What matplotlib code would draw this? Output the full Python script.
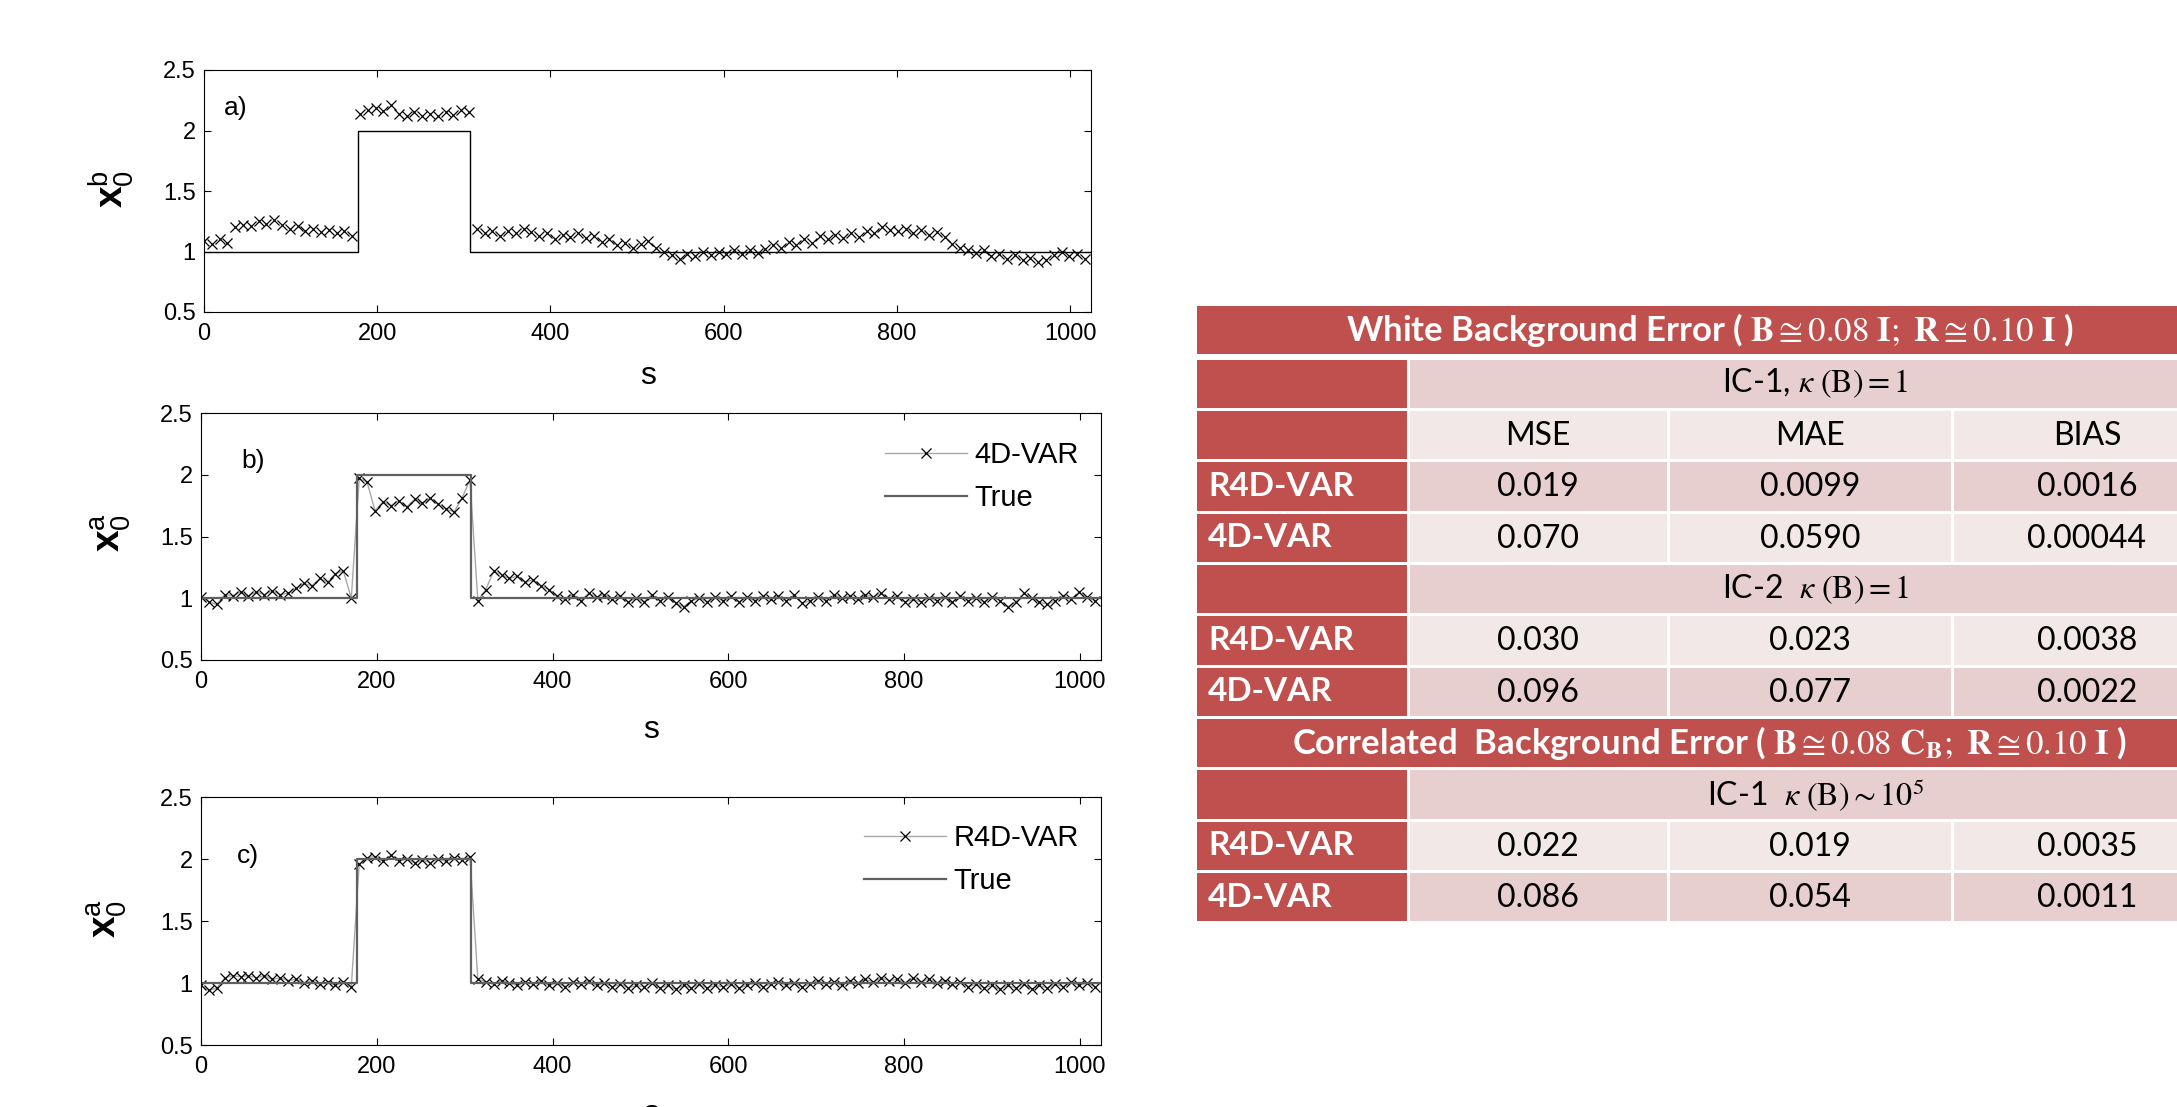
import matplotlib.pyplot as plt
from matplotlib.patches import Rectangle

# ---------------- data (markers every 9 grid points) ----------------
background = [1.09, 1.06, 1.10, 1.07, 1.20, 1.22, 1.21, 1.25, 1.23, 1.26,
              1.22, 1.19, 1.21, 1.17, 1.19, 1.16, 1.18, 1.15, 1.17, 1.13,
              2.14, 2.17, 2.19, 2.16, 2.21, 2.14, 2.12, 2.15, 2.12, 2.14,
              2.12, 2.15, 2.13, 2.17, 2.15,
              1.19, 1.15, 1.17, 1.13, 1.17, 1.15, 1.19, 1.16, 1.13, 1.15,
              1.10, 1.14, 1.12, 1.15, 1.11, 1.13, 1.08, 1.10, 1.05, 1.07,
              1.03, 1.06, 1.09, 1.03, 1.00, 0.97, 0.94, 0.98, 0.96, 1.00,
              0.97, 1.00, 0.98, 1.01, 0.98, 1.01, 0.99, 1.02, 1.05, 1.03,
              1.08, 1.05, 1.10, 1.07, 1.13, 1.10, 1.14, 1.11, 1.15, 1.12,
              1.17, 1.15, 1.20, 1.18, 1.17, 1.19, 1.15, 1.18, 1.14, 1.16,
              1.12, 1.06, 1.03, 1.01, 0.99, 1.01, 0.96, 0.98, 0.94, 0.97,
              0.93, 0.95, 0.91, 0.93, 0.97, 1.00, 0.96, 0.98, 0.94]

var4d = [1.01, 0.97, 0.95, 1.03, 1.02, 1.05, 1.02, 1.05, 1.03, 1.06,
         1.03, 1.04, 1.08, 1.12, 1.10, 1.16, 1.13, 1.20, 1.22, 1.00,
         1.97, 1.94, 1.71, 1.78, 1.75, 1.79, 1.74, 1.80, 1.77, 1.81,
         1.76, 1.72, 1.70, 1.81, 1.96,
         0.98, 1.07, 1.22, 1.19, 1.16, 1.18, 1.13, 1.15, 1.10, 1.07,
         1.02, 0.99, 1.03, 0.98, 1.04, 1.01, 1.03, 0.99, 1.02, 0.97,
         1.00, 0.97, 1.03, 0.98, 1.01, 0.96, 0.93, 0.98, 1.00, 0.97,
         1.01, 0.98, 1.02, 0.97, 1.01, 0.98, 1.02, 0.99, 1.02, 0.98,
         1.03, 0.96, 0.98, 1.01, 0.98, 1.03, 1.00, 1.02, 0.99, 1.03,
         1.01, 1.04, 0.99, 1.02, 0.97, 0.99, 0.97, 1.00, 0.98, 1.01,
         0.97, 1.02, 0.98, 1.00, 0.97, 1.01, 0.98, 0.93, 0.97, 1.04,
         1.00, 0.97, 0.95, 0.98, 1.02, 0.99, 1.05, 1.01, 0.98]

r4dvar = [0.98, 0.94, 0.96, 1.04, 1.06, 1.05, 1.06, 1.04, 1.06, 1.03,
          1.04, 1.02, 1.03, 1.00, 1.02, 0.99, 1.01, 0.98, 1.01, 0.97,
          1.96, 2.01, 2.02, 1.98, 2.03, 1.98, 2.00, 1.97, 1.99, 1.97,
          2.00, 1.98, 2.01, 1.99, 2.02,
          1.03, 1.01, 0.99, 1.02, 1.00, 0.98, 1.01, 0.99, 1.02, 0.98,
          1.00, 0.97, 1.01, 0.99, 1.02, 0.98, 1.00, 0.97, 0.99, 0.96,
          0.98, 0.97, 1.00, 0.96, 0.98, 0.95, 0.98, 0.96, 0.99, 0.96,
          0.98, 0.97, 0.99, 0.96, 0.98, 1.00, 0.97, 0.99, 1.01, 0.98,
          1.00, 0.97, 0.99, 1.02, 0.99, 1.01, 0.98, 1.02, 1.00, 1.03,
          1.01, 1.04, 1.02, 1.03, 1.00, 1.04, 1.01, 1.03, 1.00, 1.02,
          0.99, 1.01, 0.97, 0.99, 0.96, 0.98, 0.95, 0.98, 0.96, 0.99,
          0.95, 0.98, 0.96, 0.99, 0.97, 1.01, 0.98, 1.00, 0.97]

true_s = [0, 178, 178, 307, 307, 1024]
true_v = [1, 1, 2, 2, 1, 1]

xticks = [0, 200, 400, 600, 800, 1000]
yticks = [0.5, 1, 1.5, 2, 2.5]
ytick_labels = ['0.5', '1', '1.5', '2', '2.5']

# table contents
title_white = r'White Background Error ( $\mathbf{B} \cong 0.08\ \mathbf{I};\ \mathbf{R} \cong 0.10\ \mathbf{I}$ )'
title_corr = r'Correlated  Background Error ( $\mathbf{B} \cong 0.08\ \mathbf{C}_\mathbf{B};\ \mathbf{R} \cong 0.10\ \mathbf{I}$ )'
ic_white_1 = r'IC-1, $\kappa\ (\mathrm{B}) = 1$'
ic_white_2 = r'IC-2  $\kappa\ (\mathrm{B}) = 1$'
ic_corr_1 = r'IC-1  $\kappa\ (\mathrm{B}){\sim}10^5$'
metrics = ['MSE', 'MAE', 'BIAS']
methods = ['R4D-VAR', '4D-VAR']
white_ic1 = [['0.019', '0.0099', '0.0016'], ['0.070', '0.0590', '0.00044']]
white_ic2 = [['0.030', '0.023', '0.0038'], ['0.096', '0.077', '0.0022']]
corr_ic1 = [['0.022', '0.019', '0.0035'], ['0.086', '0.054', '0.0011']]

# ---------------- figure ----------------
plt.rcParams['font.family'] = ['Liberation Sans', 'DejaVu Sans']
plt.rcParams['mathtext.fontset'] = 'custom'
plt.rcParams['mathtext.rm'] = 'Liberation Sans'
plt.rcParams['mathtext.bf'] = 'Liberation Sans:bold'
plt.rcParams['mathtext.it'] = 'Liberation Sans:italic'

W, H = 2177, 1107
fig = plt.figure(figsize=(W / 100, H / 100), dpi=100)


def rect(l, t, r, b):
    return [l / W, 1 - b / H, (r - l) / W, (b - t) / H]


s = [9 * i for i in range(len(background))]
s4 = [9 * i for i in range(len(var4d))]
sr = [9 * i for i in range(len(r4dvar))]


def style(ax):
    ax.set_xlim(0, 1024)
    ax.set_ylim(0.5, 2.5)
    ax.set_xticks(xticks)
    ax.set_yticks(yticks)
    ax.set_yticklabels(ytick_labels)
    ax.tick_params(direction='in', top=True, right=True, length=5, width=0.8,
                   labelsize=17)
    ax.tick_params(axis='x', pad=8)
    ax.tick_params(axis='y', pad=6)
    for sp in ax.spines.values():
        sp.set_linewidth(0.8)


leg_kw = dict(loc='upper right', frameon=False, fontsize=21, handlelength=2.8,
              handletextpad=0.25, labelspacing=0.5, numpoints=1,
              borderaxespad=0, borderpad=0)

# panel a
ax1 = fig.add_axes(rect(204, 70, 1091, 312))
ax1.plot(s, background, ls='none', marker='x', color='k', ms=7.5, mew=0.9)
ax1.plot(true_s, true_v, color='k', lw=1)
style(ax1)
ax1.text(0.022, 0.845, 'a)', transform=ax1.transAxes, fontsize=19, va='center')
fig.text(111 / W, 1 - 189 / H, r'$\mathbf{x}_0^{\mathrm{b}}$', rotation=90,
         ha='center', va='center', fontsize=28)
fig.text(648 / W, 1 - 376 / H, 's', ha='center', va='center', fontsize=23)

# panel b
ax2 = fig.add_axes(rect(201, 413, 1101, 660))
ax2.plot(s4, var4d, color='#a8a8a8', lw=1, marker='x', mec='k', ms=7.5, mew=0.9,
         label='4D-VAR')
ax2.plot(true_s, true_v, color='#606060', lw=1.6, label='True')
style(ax2)
ax2.text(0.045, 0.806, 'b)', transform=ax2.transAxes, fontsize=19, va='center')
ax2.legend(bbox_to_anchor=(0.975, 0.885), **leg_kw)
fig.text(111 / W, 1 - 532 / H, r'$\mathbf{x}_0^{\mathrm{a}}$', rotation=90,
         ha='center', va='center', fontsize=28)
fig.text(651 / W, 1 - 730 / H, 's', ha='center', va='center', fontsize=23)

# panel c
ax3 = fig.add_axes(rect(201, 797, 1101, 1045))
ax3.plot(sr, r4dvar, color='#a8a8a8', lw=1, marker='x', mec='k', ms=7.5, mew=0.9,
         label='R4D-VAR')
ax3.plot(true_s, true_v, color='#606060', lw=1.6, label='True')
style(ax3)
ax3.text(0.04, 0.762, 'c)', transform=ax3.transAxes, fontsize=19, va='center')
ax3.legend(bbox_to_anchor=(0.975, 0.89), **leg_kw)
fig.text(107 / W, 1 - 918 / H, r'$\mathbf{x}_0^{\mathrm{a}}$', rotation=90,
         ha='center', va='center', fontsize=28)
fig.text(651 / W, 1 - 1114 / H, 's', ha='center', va='center', fontsize=23)

# ---------------- table ----------------
red = '#C0504D'
dark = '#E8CFCF'
light = '#F3E8E8'
tab = fig.add_axes([0, 0, 1, 1])
tab.set_xlim(0, W)
tab.set_ylim(H, 0)
tab.axis('off')

cols = [1197, 1408.5, 1668, 1952, 2222]
pitch = 51.35
top0 = 358
g = 1.5
tfont = ['Lato', 'DejaVu Sans']


def cell(l, t, r, b, c):
    tab.add_patch(Rectangle((l, t), r - l, b - t, facecolor=c, edgecolor='none'))


def row_box(i):
    t = top0 + (i - 1) * pitch
    return t + g, t + pitch - g


def title_row(t, b, txt):
    cell(cols[0], t, cols[-1], b, red)
    tab.text((cols[0] + cols[-1]) / 2, (t + b) / 2, txt, color='white',
             fontsize=25, fontweight='bold', family=tfont, math_fontfamily='stix',
             ha='center', va='center')


def label_cell(t, b, txt=''):
    cell(cols[0], t, cols[1] - g, b, red)
    if txt:
        tab.text(1208, (t + b) / 2, txt, color='white', fontsize=24,
                 fontweight='bold', family=tfont, ha='left', va='center')


def ic_row(i, txt):
    t, b = row_box(i)
    label_cell(t, b)
    cell(cols[1] + g, t, cols[-1], b, dark if i % 2 else light)
    tab.text((cols[1] + cols[-1]) / 2, (t + b) / 2, txt, fontsize=23,
             family=tfont, math_fontfamily='stix', ha='center', va='center')


def value_row(i, name, vals):
    t, b = row_box(i)
    label_cell(t, b, name)
    for j, v in enumerate(vals):
        cell(cols[j + 1] + g, t, cols[j + 2] - g, b, dark if i % 2 else light)
        tab.text((cols[j + 1] + cols[j + 2]) / 2, (t + b) / 2 + 1, v,
                 fontsize=23, family=tfont, ha='center', va='center')


title_row(306, 354, title_white)
ic_row(1, ic_white_1)
value_row(2, '', metrics)
value_row(3, methods[0], white_ic1[0])
value_row(4, methods[1], white_ic1[1])
ic_row(5, ic_white_2)
value_row(6, methods[0], white_ic2[0])
value_row(7, methods[1], white_ic2[1])
t8, b8 = row_box(8)
title_row(t8, b8, title_corr)
ic_row(9, ic_corr_1)
value_row(10, methods[0], corr_ic1[0])
value_row(11, methods[1], corr_ic1[1])

fig.savefig('out.png', dpi=100)
